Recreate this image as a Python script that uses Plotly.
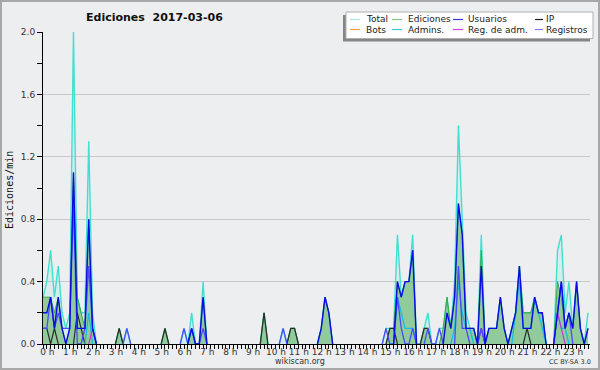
import plotly.graph_objects as go

# ---------------- data (edits per minute, one value per 10-minute slot, 0h .. 23h50) ----------------
total = [
    0.3, 0.4, 0.6, 0.3, 0.5, 0.2, 0.1, 0.2, 2.0, 0.3, 0.2, 0.2,   # 0-2h
    1.3, 0.2, 0, 0, 0, 0, 0, 0, 0.1, 0, 0.1, 0,                   # 2-4h
    0, 0, 0, 0, 0, 0, 0, 0, 0.1, 0, 0, 0,                         # 4-6h
    0, 0.1, 0, 0.2, 0, 0, 0.4, 0, 0, 0, 0, 0,                     # 6-8h
    0, 0, 0, 0, 0, 0, 0, 0, 0, 0, 0.2, 0,                         # 8-10h
    0, 0, 0, 0.1, 0, 0.1, 0.1, 0, 0, 0, 0, 0,                     # 10-12h
    0, 0.1, 0.3, 0.2, 0, 0, 0, 0, 0, 0, 0, 0,                     # 12-14h
    0, 0, 0, 0, 0, 0, 0.1, 0.1, 0.1, 0.7, 0.3, 0.4,               # 14-16h
    0.4, 0.7, 0, 0, 0.1, 0.2, 0, 0, 0.1, 0.1, 0.3, 0.1,           # 16-18h
    0.4, 1.4, 0.8, 0.2, 0.1, 0.1, 0, 0.7, 0, 0.1, 0.1, 0.1,       # 18-20h
    0.3, 0.1, 0, 0.1, 0.2, 0.5, 0.2, 0.2, 0.2, 0.3, 0.2, 0.2,     # 20-22h
    0, 0, 0, 0.6, 0.7, 0.2, 0.4, 0.1, 0.4, 0.1, 0, 0.2,           # 22-24h
]
ediciones = [
    0.3, 0.3, 0.3, 0.2, 0.3, 0.1, 0, 0.1, 1.1, 0.3, 0.2, 0.1,
    0.8, 0.1, 0, 0, 0, 0, 0, 0, 0.1, 0, 0, 0,
    0, 0, 0, 0, 0, 0, 0, 0, 0.1, 0, 0, 0,
    0, 0, 0, 0.1, 0, 0, 0.3, 0, 0, 0, 0, 0,
    0, 0, 0, 0, 0, 0, 0, 0, 0, 0, 0.2, 0,
    0, 0, 0, 0, 0, 0.1, 0.1, 0, 0, 0, 0, 0,
    0, 0.1, 0.3, 0.2, 0, 0, 0, 0, 0, 0, 0, 0,
    0, 0, 0, 0, 0, 0, 0, 0.1, 0.1, 0.4, 0.3, 0.4,
    0.4, 0.6, 0, 0, 0.1, 0.1, 0, 0, 0, 0.1, 0.3, 0.1,
    0.3, 0.9, 0.7, 0.1, 0.1, 0.1, 0, 0.6, 0, 0.1, 0.1, 0.1,
    0.3, 0.1, 0, 0.1, 0.2, 0.5, 0.2, 0.2, 0.2, 0.3, 0.2, 0.2,
    0, 0, 0, 0.4, 0.3, 0.1, 0.2, 0.1, 0.4, 0.1, 0, 0.1,
]
usuarios = [
    0.2, 0.2, 0.3, 0.1, 0.3, 0.1, 0, 0.1, 1.1, 0.1, 0.1, 0.1,
    0.8, 0.1, 0, 0, 0, 0, 0, 0, 0, 0, 0, 0,
    0, 0, 0, 0, 0, 0, 0, 0, 0, 0, 0, 0,
    0, 0, 0, 0.1, 0, 0, 0.3, 0, 0, 0, 0, 0,
    0, 0, 0, 0, 0, 0, 0, 0, 0, 0, 0, 0,
    0, 0, 0, 0, 0, 0, 0, 0, 0, 0, 0, 0,
    0, 0.1, 0.3, 0.2, 0, 0, 0, 0, 0, 0, 0, 0,
    0, 0, 0, 0, 0, 0, 0, 0, 0, 0.4, 0.3, 0.4,
    0.4, 0.6, 0, 0, 0, 0, 0, 0, 0, 0, 0.2, 0.1,
    0.3, 0.9, 0.7, 0.1, 0.1, 0.1, 0, 0.5, 0, 0.1, 0.1, 0.1,
    0.3, 0.1, 0, 0.1, 0.2, 0.5, 0.1, 0.1, 0.1, 0.3, 0.2, 0.2,
    0, 0, 0, 0.2, 0.4, 0.1, 0.2, 0.1, 0.4, 0.1, 0, 0.1,
]
ip = [
    0.1, 0.1, 0, 0.1, 0, 0, 0, 0, 0, 0.2, 0.1, 0,
    0, 0, 0, 0, 0, 0, 0, 0, 0.1, 0, 0, 0,
    0, 0, 0, 0, 0, 0, 0, 0, 0.1, 0, 0, 0,
    0, 0, 0, 0, 0, 0, 0, 0, 0, 0, 0, 0,
    0, 0, 0, 0, 0, 0, 0, 0, 0, 0, 0.2, 0,
    0, 0, 0, 0, 0, 0.1, 0.1, 0, 0, 0, 0, 0,
    0, 0, 0, 0, 0, 0, 0, 0, 0, 0, 0, 0,
    0, 0, 0, 0, 0, 0, 0, 0.1, 0.1, 0, 0, 0,
    0, 0, 0, 0, 0.1, 0.1, 0, 0, 0, 0, 0, 0,
    0, 0, 0, 0, 0, 0, 0, 0.1, 0, 0, 0, 0,
    0, 0, 0, 0, 0, 0, 0, 0.1, 0, 0, 0, 0,
    0, 0, 0, 0, 0, 0, 0, 0, 0, 0, 0, 0,
]
bots = [0] * 144   # no bot edits that day
admins = [
    0, 0, 0, 0, 0, 0, 0, 0, 0, 0, 0, 0,
    0.2, 0, 0, 0, 0, 0, 0, 0, 0, 0, 0, 0,
    0, 0, 0, 0, 0, 0, 0, 0, 0, 0, 0, 0,
    0, 0, 0, 0, 0, 0, 0, 0, 0, 0, 0, 0,
    0, 0, 0, 0, 0, 0, 0, 0, 0, 0, 0, 0,
    0, 0, 0, 0, 0, 0, 0, 0, 0, 0, 0, 0,
    0, 0, 0, 0, 0, 0, 0, 0, 0, 0, 0, 0,
    0, 0, 0, 0, 0, 0, 0, 0, 0, 0.3, 0.2, 0.1,
    0.1, 0.1, 0, 0, 0, 0, 0, 0, 0, 0, 0, 0,
    0.1, 0.4, 0.2, 0.1, 0.1, 0, 0, 0, 0, 0, 0, 0,
    0, 0, 0, 0, 0.2, 0.4, 0.1, 0.1, 0.1, 0.3, 0.2, 0.1,
    0, 0, 0, 0.2, 0.1, 0.1, 0, 0, 0, 0, 0, 0,
]
reg_adm = [
    0, 0, 0, 0, 0, 0, 0, 0, 0, 0, 0, 0,
    0, 0.1, 0, 0, 0, 0, 0, 0, 0, 0, 0, 0,
    0, 0, 0, 0, 0, 0, 0, 0, 0, 0, 0, 0,
    0, 0, 0, 0, 0, 0, 0, 0, 0, 0, 0, 0,
    0, 0, 0, 0, 0, 0, 0, 0, 0, 0, 0, 0,
    0, 0, 0, 0, 0, 0, 0, 0, 0, 0, 0, 0,
    0, 0, 0, 0, 0, 0, 0, 0, 0, 0, 0, 0,
    0, 0, 0, 0, 0, 0, 0, 0, 0, 0, 0, 0,
    0, 0, 0, 0, 0, 0, 0, 0, 0, 0, 0, 0,
    0, 0, 0, 0, 0, 0, 0, 0.1, 0, 0, 0, 0,
    0, 0, 0, 0, 0, 0, 0, 0, 0, 0, 0, 0,
    0, 0, 0, 0.2, 0.1, 0, 0, 0, 0, 0, 0, 0,
]
registros = [
    0.1, 0.1, 0.3, 0.1, 0.2, 0.1, 0.1, 0.1, 0.9, 0, 0, 0.1,
    0.5, 0.1, 0, 0, 0, 0, 0, 0, 0, 0, 0.1, 0,
    0, 0, 0, 0, 0, 0, 0, 0, 0, 0, 0, 0,
    0, 0.1, 0, 0.1, 0, 0, 0.1, 0, 0, 0, 0, 0,
    0, 0, 0, 0, 0, 0, 0, 0, 0, 0, 0, 0,
    0, 0, 0, 0.1, 0, 0, 0, 0, 0, 0, 0, 0,
    0, 0, 0, 0, 0, 0, 0, 0, 0, 0, 0, 0,
    0, 0, 0, 0, 0, 0, 0.1, 0, 0, 0.3, 0.1, 0,
    0, 0.1, 0, 0, 0, 0.1, 0, 0, 0.1, 0, 0, 0,
    0, 0.5, 0.1, 0.1, 0, 0, 0, 0.1, 0, 0, 0, 0,
    0, 0, 0, 0, 0, 0, 0, 0, 0, 0, 0, 0,
    0, 0, 0, 0.2, 0.4, 0.1, 0.2, 0, 0, 0, 0, 0,
]

hours = [i / 6 for i in range(144)]
hour_labels = [f"{h} h" for h in range(24)]
y_ticks = [0, 0.4, 0.8, 1.2, 1.6, 2.0]

legend_items = [  # (label, colour) in the order of the legend, row by row
    ("Total", "#a8e8e0"), ("Ediciones", "#80cc80"), ("Usuarios", "#3838e0"), ("IP", "#202020"),
    ("Bots", "#f0a040"), ("Admins.", "#40c8dc"), ("Reg. de adm.", "#d040e0"), ("Registros", "#8080f0"),
]

# ---------------- layout helpers ----------------
W, H = 600, 370
L, R, T, B = 43, 10, 32, 26
PW, PH = W - L - R, H - T - B


def px(x):
    return (x - L) / PW


def py(y):
    return (H - B - y) / PH


def gapped(vals):
    n = len(vals)
    out = []
    for i, v in enumerate(vals):
        keep = v != 0 or (i > 0 and vals[i - 1] != 0) or (i < n - 1 and vals[i + 1] != 0)
        out.append(v if keep else None)
    return out


fig = go.Figure()


def add_line(vals, color, width=1.3, fill=None, fillcolor=None):
    fig.add_trace(go.Scatter(
        x=hours, y=gapped(vals), mode="lines",
        line=dict(color=color, width=width),
        fill=fill, fillcolor=fillcolor,
        hoverinfo="skip", showlegend=False, connectgaps=False,
    ))


add_line(total, "#40E0D0", 1.4, "tozeroy", "rgba(64,224,208,0.12)")
add_line(ediciones, "#3aaa3a", 1.0, "tozeroy", "rgba(60,165,60,0.45)")
add_line(bots, "#f0a040")
add_line(ip, "#2a2a2a", 1.2)
add_line(admins, "#18bce0", 1.3)
add_line(reg_adm, "#c838d8", 1.2)
add_line(registros, "#4a4aff", 1.3)
add_line(usuarios, "#0a0ae6", 1.4)

font_main = "DejaVu Sans"

fig.update_layout(
    width=W, height=H,
    margin=dict(l=L, r=R, t=T, b=B, pad=0),
    paper_bgcolor="#EDEEF0", plot_bgcolor="#EDEEF0",
    showlegend=False,
    font=dict(family=font_main, size=9, color="#333333"),
)

fig.update_xaxes(
    range=[0, 23.92], showgrid=False, zeroline=False,
    showline=True, linecolor="black", linewidth=1,
    tickvals=[h + 0.19 for h in range(24)], ticktext=hour_labels,
    ticks="", ticklabelstandoff=-1,
    tickfont=dict(family=font_main, size=9, color="#333333"),
    minor=dict(dtick=1 / 6, tick0=0, ticks="outside", ticklen=4, tickwidth=1,
               tickcolor="black", showgrid=False),
)
fig.update_yaxes(
    range=[0, 2], showgrid=True, gridcolor="#c8c8c8", gridwidth=1, zeroline=False,
    showline=True, linecolor="black", linewidth=1,
    tickvals=y_ticks, ticktext=[f"{v:.1f}" for v in y_ticks],
    ticks="outside", ticklen=5, tickcolor="black",
    tickfont=dict(family=font_main, size=9, color="#333333"),
    minor=dict(tickvals=[0.2, 0.6, 1.0, 1.4, 1.8], ticks="outside", ticklen=5,
               tickcolor="black", showgrid=False),
)

shapes = []
annotations = []

# outer frame
shapes.append(dict(type="rect", xref="paper", yref="paper",
                   x0=px(1), x1=px(599), y0=py(369), y1=py(1),
                   line=dict(color="#a8a8a8", width=2), fillcolor="rgba(0,0,0,0)", layer="above"))

# legend box with shadow
shapes.append(dict(type="rect", xref="paper", yref="paper",
                   x0=px(343), x1=px(590), y0=py(41.5), y1=py(15),
                   line=dict(width=0), fillcolor="#858585", layer="above"))
shapes.append(dict(type="rect", xref="paper", yref="paper",
                   x0=px(346), x1=px(593), y0=py(38.5), y1=py(12),
                   line=dict(color="#b0b0b0", width=1), fillcolor="white", layer="above"))

col_line = [(350, 360), (392, 402), (453, 463), (535, 543)]
col_text = [366, 408, 468, 546]
rows_y = [19.5, 29.5]
for k, (label, color) in enumerate(legend_items):
    r, c = divmod(k, 4)
    yy = rows_y[r]
    shapes.append(dict(type="line", xref="paper", yref="paper",
                       x0=px(col_line[c][0]), x1=px(col_line[c][1]), y0=py(yy), y1=py(yy),
                       line=dict(color=color, width=1.2), layer="above"))
    annotations.append(dict(xref="paper", yref="paper", x=px(col_text[c] - 2), y=py(yy),
                            xanchor="left", yanchor="middle", showarrow=False, text=label,
                            font=dict(family=font_main, size=9, color="#222222")))

# title
annotations.append(dict(xref="paper", yref="paper", x=px(154), y=py(17.5),
                        xanchor="center", yanchor="middle", showarrow=False,
                        text="<b>Ediciones\u00a0\u00a02017-03-06</b>",
                        font=dict(family=font_main, size=11, color="#111111")))
# y-axis title
annotations.append(dict(xref="paper", yref="paper", x=px(9), y=py(190),
                        xanchor="center", yanchor="middle", showarrow=False, textangle=-90,
                        text="Ediciones/min",
                        font=dict(family="DejaVu Sans Mono", size=10, color="#111111")))
# footer
annotations.append(dict(xref="paper", yref="paper", x=px(300), y=py(361),
                        xanchor="center", yanchor="middle", showarrow=False,
                        text="wikiscan.org",
                        font=dict(family=font_main, size=8, color="#333333")))
annotations.append(dict(xref="paper", yref="paper", x=px(570), y=py(362),
                        xanchor="center", yanchor="middle", showarrow=False,
                        text="CC BY-SA 3.0",
                        font=dict(family=font_main, size=6.5, color="#333333")))

fig.update_layout(shapes=shapes, annotations=annotations)

fig.write_html(
    "out.html",
    config={"displayModeBar": False},
    post_script="document.body.style.margin='0';document.body.style.overflow='hidden';",
)
